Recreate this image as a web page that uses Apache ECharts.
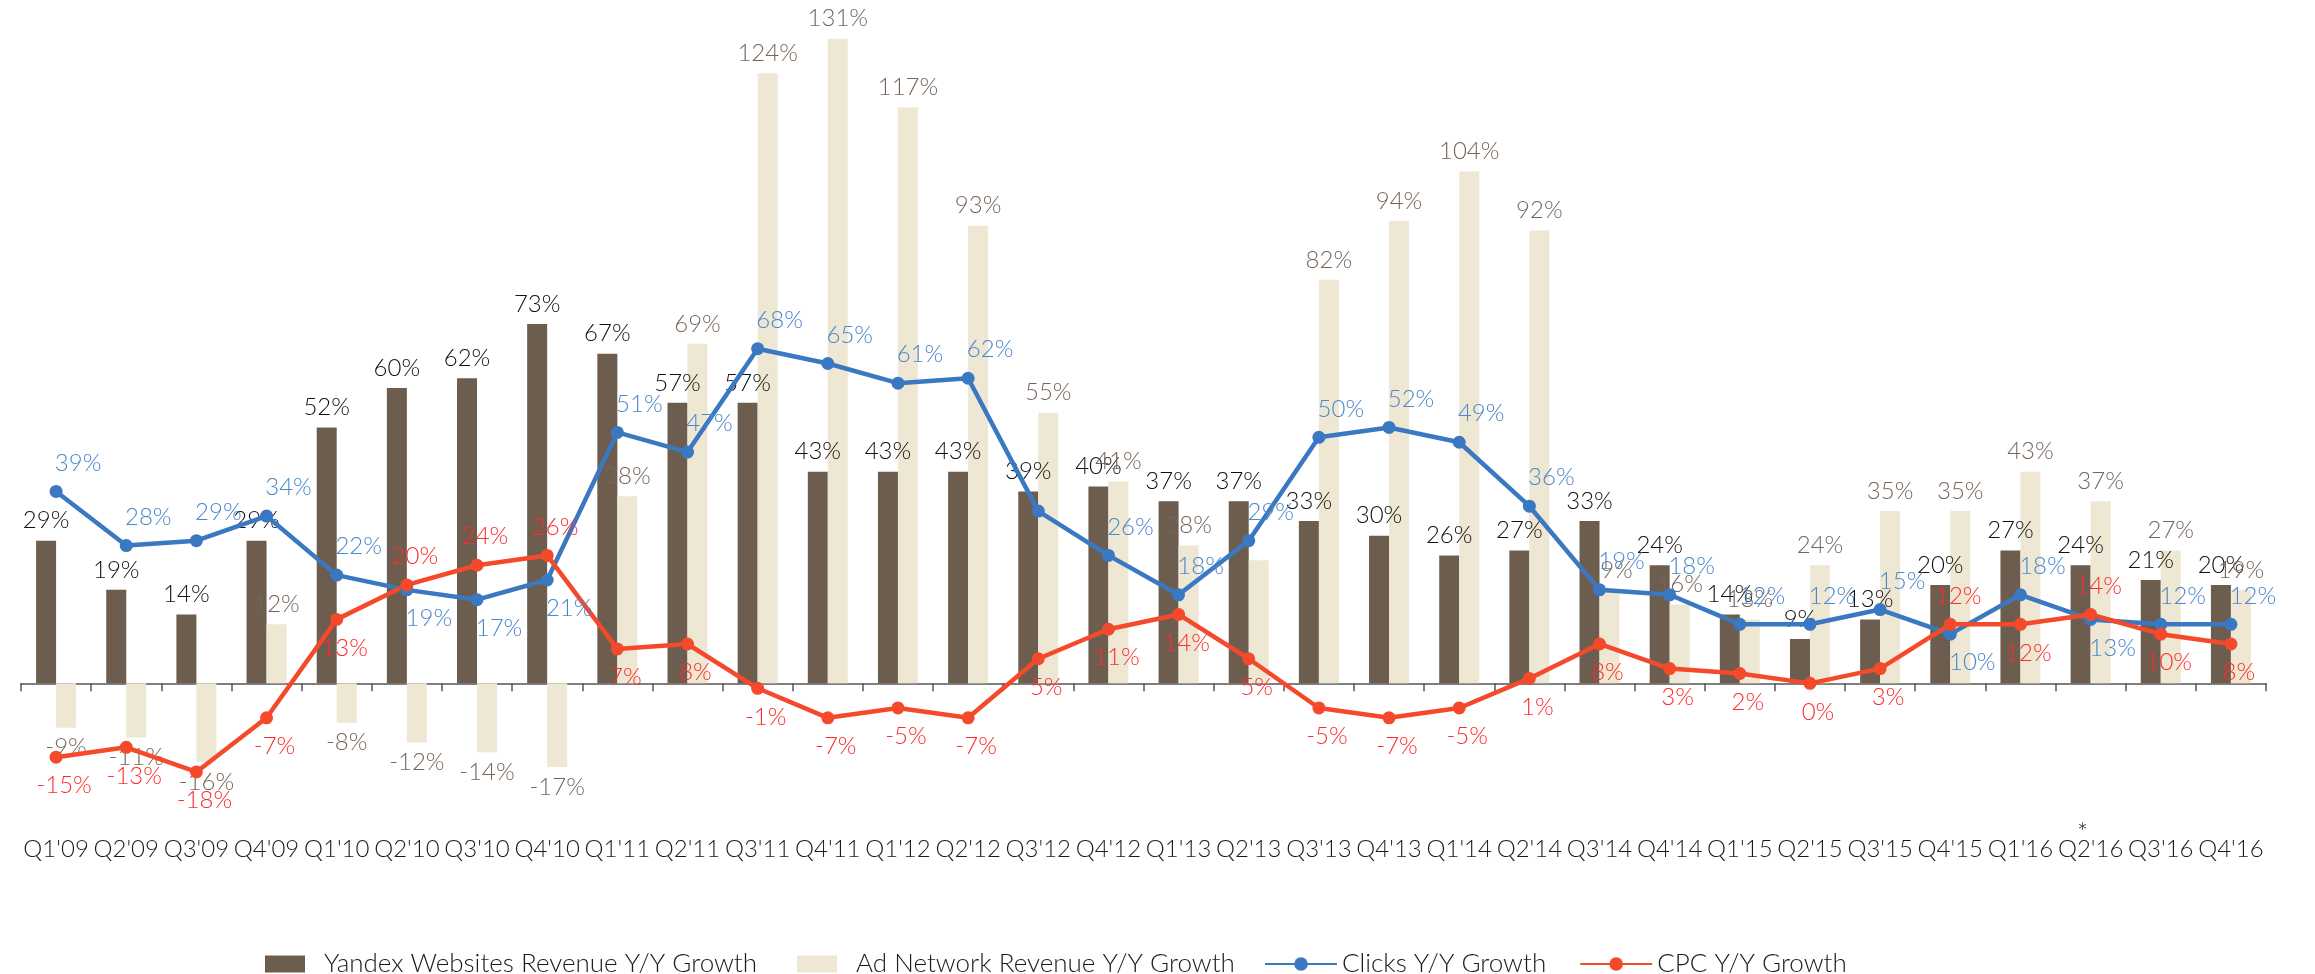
<!DOCTYPE html>
<html>
<head>
<meta charset="utf-8">
<script src="https://cdn.jsdelivr.net/npm/echarts@6/dist/echarts.min.js"></script>
<style>
html,body{margin:0;padding:0;background:#fff;}
#chart{width:2315px;height:974px;}
</style>
</head>
<body>
<div id="chart"></div>
<script>
// ---- data ----
var categories = ["Q1'09","Q2'09","Q3'09","Q4'09","Q1'10","Q2'10","Q3'10","Q4'10",
  "Q1'11","Q2'11","Q3'11","Q4'11","Q1'12","Q2'12","Q3'12","Q4'12",
  "Q1'13","Q2'13","Q3'13","Q4'13","Q1'14","Q2'14","Q3'14","Q4'14",
  "Q1'15","Q2'15","Q3'15","Q4'15","Q1'16","Q2'16*","Q3'16","Q4'16"];
var websitesRevenue = [29,19,14,29,52,60,62,73,67,57,57,43,43,43,39,40,37,37,33,30,26,27,33,24,14,9,13,20,27,24,21,20];
var adNetworkRevenue = [-9,-11,-16,12,-8,-12,-14,-17,38,69,124,131,117,93,55,41,28,25,82,94,104,92,19,16,13,24,35,35,43,37,27,19];
var clicks = [39,28,29,34,22,19,17,21,51,47,68,65,61,62,35,26,18,29,50,52,49,36,19,18,12,12,15,10,18,13,12,12];
var cpc = [-15,-13,-18,-7,13,20,24,26,7,8,-1,-7,-5,-7,5,11,14,5,-5,-7,-5,1,8,3,2,0,3,12,12,14,10,8];
var seriesNames = ["Yandex Websites Revenue Y/Y Growth","Ad Network Revenue Y/Y Growth","Clicks Y/Y Growth","CPC Y/Y Growth"];
// points whose value label is not shown in the original
var hiddenAdLabels = ["Q2'13"];
var hiddenClickLabels = ["Q3'12"];

// ---- styles ----
var FONT = "Lato";
var W = 300;
var cBrown = "#6C5D4E", cBeige = "#EEE7D3", cBlue = "#3A78C2", cRed = "#F4492A";

function pct(p){ return p.value + "%"; }
function labelShown(list, i){ return list.indexOf(categories[i]) < 0; }

var adData = adNetworkRevenue.map(function(v, i){
  return {value: v, label: {show: labelShown(hiddenAdLabels, i), position: v < 0 ? 'bottom' : 'top'}};
});
// where the CPC line runs above the clicks line, the two labels swap sides
var clickData = clicks.map(function(v, i){
  var redAbove = cpc[i] > v;
  return {value: v, label: {show: labelShown(hiddenClickLabels, i),
    position: redAbove ? 'bottom' : 'top'}};
});
var cpcData = cpc.map(function(v, i){
  var redAbove = v > clicks[i];
  return {value: v, label: {position: redAbove ? 'top' : 'bottom'}};
});

var chart = echarts.init(document.getElementById('chart'), null, {renderer: 'canvas'});
chart.setOption({
  animation: false,
  backgroundColor: '#fff',
  textStyle: {fontFamily: FONT, fontWeight: W},
  grid: {left: 21, right: 49, top: 19, bottom: 143, containLabel: false},
  legend: [{
    data: [seriesNames[0], seriesNames[1]],
    left: 265, top: 951, padding: 0,
    itemWidth: 40, itemHeight: 17, itemGap: 40,
    icon: 'rect',
    textStyle: {fontFamily: FONT, fontWeight: W, fontSize: 26, color: '#1a1a1a', padding: [0,0,0,14]}
  },{
    data: [seriesNames[2], seriesNames[3]],
    left: 1264, top: 951, padding: 0,
    itemWidth: 72, itemHeight: 17, itemGap: 33,
    textStyle: {fontFamily: FONT, fontWeight: W, fontSize: 26, color: '#1a1a1a'}
  }],
  xAxis: [{
    type: 'category', data: categories, position: 'bottom',
    axisLine: {onZero: true, lineStyle: {color: '#555', width: 1.5}},
    axisTick: {show: true, length: 8, lineStyle: {color: '#555', width: 1.5}},
    axisLabel: {show: false}
  },{
    type: 'category', data: categories, position: 'bottom',
    axisLine: {show: false, onZero: false}, axisTick: {show: false},
    axisLabel: {
      margin: 0, fontFamily: FONT, fontWeight: W, fontSize: 24, color: '#1a1a1a', interval: 0,
      formatter: function(v){
        // footnote star sits just above the label text
        if (v.charAt(v.length-1) === '*') return '{s|*}\n' + v.slice(0, -1);
        return '{s| }\n' + v;
      },
      rich: {s: {fontSize: 26, lineHeight: 6, color: '#1a1a1a', padding: [0,16,0,0]}}
    }
  }],
  yAxis: {
    type: 'value', min: -30, max: 135, show: false, splitLine: {show: false}
  },
  series: [{
    name: seriesNames[0], type: 'bar', data: websitesRevenue,
    barWidth: 20, barGap: '0%',
    itemStyle: {color: cBrown},
    label: {show: true, position: 'top', distance: 8, formatter: pct,
      fontFamily: FONT, fontWeight: W, fontSize: 24, color: '#111'}
  },{
    name: seriesNames[1], type: 'bar', data: adData,
    barWidth: 20, barGap: '0%',
    itemStyle: {color: cBeige},
    label: {show: true, distance: 8, formatter: pct,
      fontFamily: FONT, fontWeight: W, fontSize: 24, color: '#76665A'}
  },{
    name: seriesNames[2], type: 'line', data: clickData,
    symbol: 'circle', symbolSize: 13,
    lineStyle: {color: cBlue, width: 4.5}, itemStyle: {color: cBlue},
    label: {show: true, distance: 10, offset: [22, 0], formatter: pct,
      fontFamily: FONT, fontWeight: W, fontSize: 24, color: '#4A87CB'}
  },{
    name: seriesNames[3], type: 'line', data: cpcData,
    symbol: 'circle', symbolSize: 13,
    lineStyle: {color: cRed, width: 4.5}, itemStyle: {color: cRed},
    label: {show: true, distance: 10, offset: [8, 0], formatter: pct,
      fontFamily: FONT, fontWeight: W, fontSize: 24, color: '#FF2B2B'}
  }]
});
</script>
</body>
</html>
